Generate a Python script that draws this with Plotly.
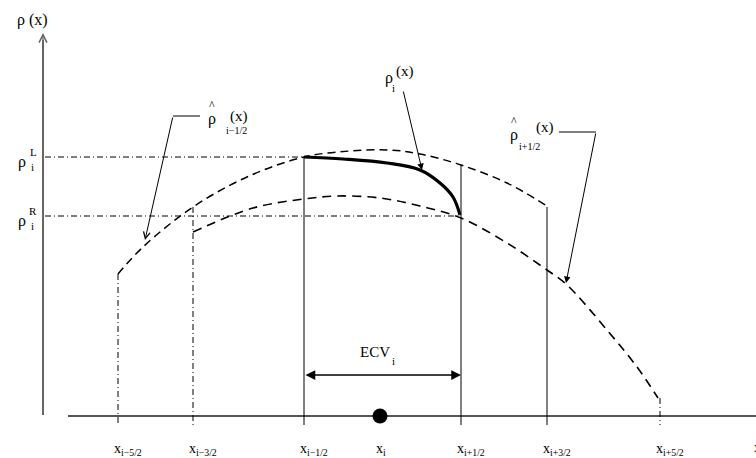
import plotly.graph_objects as go

# ---- data (schematic coordinates; y grows downward) ----
grid_x = [118, 193, 304, 380, 461, 547, 660]
grid_labels = ["x<sub>i−5/2</sub>", "x<sub>i−3/2</sub>", "x<sub>i−1/2</sub>", "x<sub>i</sub>",
               "x<sub>i+1/2</sub>", "x<sub>i+3/2</sub>", "x<sub>i+5/2</sub>"]

# reconstruction rho-hat_{i-1/2}(x)
curveA_x = [118, 143, 193, 247, 304, 350, 390, 420, 461, 507, 547]
curveA_y = [274, 247, 207, 177, 157, 151, 150, 154, 165, 183, 206]
# reconstruction rho-hat_{i+1/2}(x)
curveB_x = [193, 253, 304, 337, 380, 420, 461, 507, 547, 566, 607, 637, 658]
curveB_y = [232, 208, 199, 196, 198, 206, 218, 243, 270, 284, 330, 367, 398]
# rho_i(x)
rho_i_x = [304, 343, 387, 420, 440, 453, 460]
rho_i_y = [157, 159, 163, 170, 183, 197, 215]

rho_levels = [157, 216]          # rho_i^L, rho_i^R
rho_level_end = [304, 461]

# vertical cell lines: x, top, style
vline_x = [118, 193, 304, 461, 547, 660]
vline_top = [274, 207, 157, 165, 207, 398]
vline_dash = ["dashdot", "dashdot", "solid", "solid", "solid", "dashdot"]

baseline_y = 416
dot_x = [380]

ecv_left, ecv_right, ecv_y = 304, 461, 375

FONT = "Liberation Serif, Times New Roman, DejaVu Serif, serif"
DD = "6px,3px,1px,3px"

fig = go.Figure()

def line(xs, ys, color="black", width=1, dash="solid", shape="linear"):
    fig.add_trace(go.Scatter(x=xs, y=ys, mode="lines", hoverinfo="skip",
                             line=dict(color=color, width=width, dash=dash, shape=shape)))

# axes of the sketch
line([68, 756], [baseline_y, baseline_y], color="#555", width=2)
line([43, 43], [415, 40], color="#666", width=2)

# horizontal rho levels
for lv, xe in zip(rho_levels, rho_level_end):
    line([45, xe], [lv, lv], width=1, dash=DD)

# vertical lines
for vx, vt, vd in zip(vline_x, vline_top, vline_dash):
    line([vx, vx], [vt, baseline_y + 9], width=1, dash=DD if vd == "dashdot" else "solid")

# curves
line(curveA_x, curveA_y, width=1.5, dash="8px,5px", shape="spline")
line(curveB_x, curveB_y, width=1.6, dash="9px,6px", shape="spline")
line(rho_i_x, rho_i_y, width=3.2, shape="spline")

# dot at x_i
fig.add_trace(go.Scatter(x=dot_x, y=[baseline_y], mode="markers", hoverinfo="skip",
                         marker=dict(color="black", size=15, symbol="circle")))

# leader horizontals
line([173, 200], [116, 116], width=1)
line([559, 596], [132, 132], width=1)

ann = []
def txt(x, y, s, size=15, xanchor="center"):
    ann.append(dict(x=x, y=y, xref="x", yref="y", text=s, showarrow=False,
                    font=dict(family=FONT, size=size, color="black"), xanchor=xanchor, yanchor="middle"))

def arrow(x0, y0, x1, y1, head=2, size=1, width=1, side="end"):
    ann.append(dict(x=x1, y=y1, ax=x0, ay=y0, xref="x", yref="y", axref="x", ayref="y",
                    text="", showarrow=True, arrowhead=head, arrowsize=size, arrowwidth=width,
                    arrowcolor="black", arrowside=side, startarrowhead=head, startarrowsize=size))

# y axis arrow head
ann.append(dict(x=43, y=33, ax=43, ay=60, xref="x", yref="y", axref="x", ayref="y", text="",
                showarrow=True, arrowhead=5, arrowsize=1.2, arrowwidth=1.3, arrowcolor="#666"))

# labels on axes
txt(32, 20, "ρ (x)", size=16)
txt(22, 162, "ρ", size=16); txt(33, 152, "L", size=11); txt(32, 167, "i", size=11)
txt(22, 221, "ρ", size=16); txt(33, 211, "R", size=11); txt(32, 226, "i", size=11)
for gx, gl in zip(grid_x, grid_labels):
    txt(gx - 6, 449, gl, size=14, xanchor="left")
txt(752, 447, "x", size=14, xanchor="left")

# rho_i(x) label and arrow
txt(389, 78, "ρ", size=16); txt(405, 71, "(x)", size=15); txt(393, 88, "i", size=11)
arrow(403, 90, 422, 170, head=2, size=1.3, width=1)

# rho-hat_{i-1/2}
txt(212, 105, "^", size=12); txt(212, 119, "ρ", size=16); txt(239, 116, "(x)", size=15)
txt(236, 130, "i−1/2", size=10)
arrow(173, 116, 145, 240, head=5, size=1.3, width=1)

# rho-hat_{i+1/2}
txt(514, 121, "^", size=12); txt(514, 135, "ρ", size=16); txt(545, 127, "(x)", size=15)
txt(529, 146, "i+1/2", size=10)
arrow(596, 132, 566, 283, head=2, size=1.3, width=1)

# ECV
txt(375, 352, "ECV", size=15); txt(393, 361, "i", size=11)
arrow(ecv_left, ecv_y, ecv_right, ecv_y, head=2, size=1.3, width=1.5, side="end+start")

fig.update_layout(
    width=756, height=458, margin=dict(l=0, r=0, t=0, b=0),
    paper_bgcolor="white", plot_bgcolor="white", showlegend=False,
    xaxis=dict(range=[0, 756], visible=False, fixedrange=True),
    yaxis=dict(range=[458, 0], visible=False, fixedrange=True),
    annotations=ann,
)
fig.write_html("out.html", config={"displayModeBar": False},
               post_script="document.body.style.margin='0';document.body.style.overflow='hidden';")
